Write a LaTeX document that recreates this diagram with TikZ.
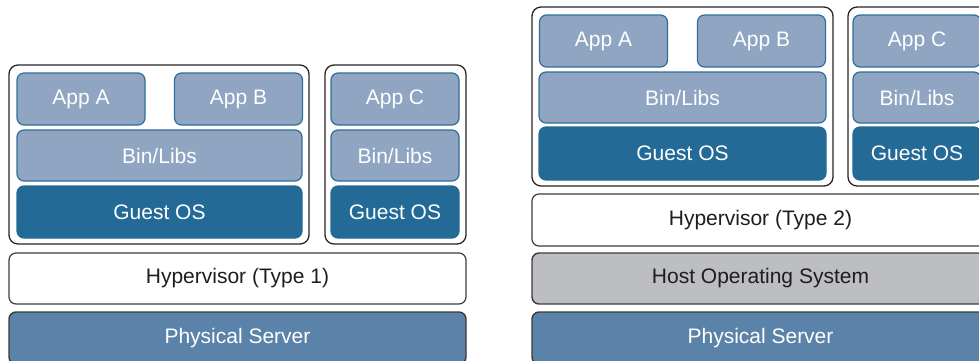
\documentclass[tikz,border=0pt]{standalone}
\usepackage{fontspec}
\setmainfont{Liberation Sans}
\definecolor{appfill}{HTML}{8FA5C1}
\definecolor{appline}{HTML}{2F6E98}
\definecolor{osfill}{HTML}{236A97}
\definecolor{physfill}{HTML}{5B82A8}
\definecolor{hostfill}{HTML}{BDBEC1}
\definecolor{darkline}{HTML}{3C3C3C}
\definecolor{txtdark}{HTML}{1E1E1E}
\begin{document}
\begin{tikzpicture}[x=1pt,y=-1pt,
  base/.style={rounded corners=7pt, inner sep=0pt, font=\fontsize{21}{25}\selectfont, anchor=center},
  appbox/.style={base, draw=appline, fill=appfill, line width=1.2pt, text=white},
  osbox/.style={base, draw=osfill, fill=osfill, line width=1.2pt, text=white},
  vmbox/.style={base, rounded corners=9pt, draw=black!85, fill=white, line width=1.3pt},
  hypbox/.style={base, draw=darkline, fill=white, line width=1.2pt, text=txtdark},
  hostbox/.style={base, draw=darkline, fill=hostfill, line width=1.4pt, text=txtdark},
  physbox/.style={base, draw=darkline, fill=physfill, line width=1.4pt, text=white}]
\useasboundingbox (0,0) rectangle (979,360);
\clip (0,0) rectangle (979,360);
% ---------- left: Type 1 ----------
\node[vmbox, minimum width=300pt, minimum height=179pt] (vm1L) at (159,154.5) {};
\node[vmbox, minimum width=141pt, minimum height=179pt] (vm2L) at (395.5,154.5) {};
\node[appbox, minimum width=128pt, minimum height=52pt] (appAL) at (81,99) {App A};
\node[appbox, minimum width=128pt, minimum height=52pt] (appBL) at (238.5,99) {App B};
\node[appbox, minimum width=285pt, minimum height=51pt] (binL) at (159.5,155.5) {Bin/Libs};
\node[osbox, minimum width=285pt, minimum height=52pt] (guestL) at (159.5,212) {Guest OS};
\node[appbox, minimum width=128pt, minimum height=52pt] (appCL) at (395,99) {App C};
\node[appbox, minimum width=128pt, minimum height=51pt] (binCL) at (395,155.5) {Bin/Libs};
\node[osbox, minimum width=128pt, minimum height=52pt] (guestCL) at (395,212) {Guest OS};
\node[hypbox, minimum width=457pt, minimum height=51pt] (hypL) at (237.5,278.5) {Hypervisor (Type 1)};
\node[physbox, minimum width=457pt, minimum height=52pt] (physL) at (237.5,338) {Physical Server};
% ---------- right: Type 2 ----------
\node[vmbox, minimum width=301pt, minimum height=179pt] (vm1R) at (682.5,96.5) {};
\node[vmbox, minimum width=141pt, minimum height=179pt] (vm2R) at (918.5,96.5) {};
\node[appbox, minimum width=128pt, minimum height=52pt] (appAR) at (603.5,41) {App A};
\node[appbox, minimum width=128pt, minimum height=52pt] (appBR) at (761.5,41) {App B};
\node[appbox, minimum width=287pt, minimum height=51pt] (binR) at (682.5,97.5) {Bin/Libs};
\node[osbox, minimum width=287pt, minimum height=53pt] (guestR) at (682.5,153.5) {Guest OS};
\node[appbox, minimum width=128pt, minimum height=52pt] (appCR) at (917,41) {App C};
\node[appbox, minimum width=128pt, minimum height=51pt] (binCR) at (917,97.5) {Bin/Libs};
\node[osbox, minimum width=128pt, minimum height=53pt] (guestCR) at (917,153.5) {Guest OS};
\node[hypbox, minimum width=457pt, minimum height=52pt] (hypR) at (760.5,220) {Hypervisor (Type 2)};
\node[hostbox, minimum width=457pt, minimum height=51pt] (hostR) at (760.5,278.5) {Host Operating System};
\node[physbox, minimum width=457pt, minimum height=52pt] (physR) at (760.5,338) {Physical Server};
\end{tikzpicture}
\end{document}
